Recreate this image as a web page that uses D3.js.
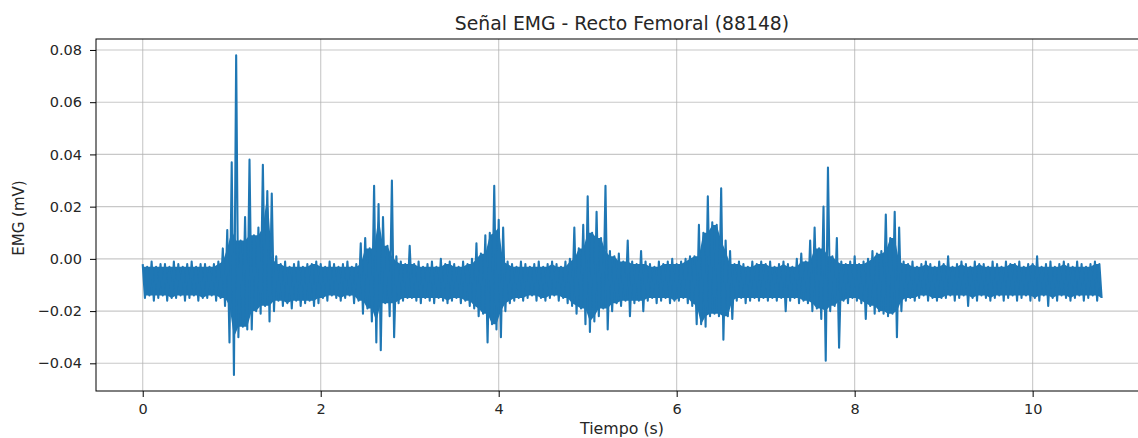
<!DOCTYPE html>
<html>
<head>
<meta charset="utf-8">
<script src="https://cdnjs.cloudflare.com/ajax/libs/d3/7.8.5/d3.min.js"></script>
<style>
    body { margin: 0; background: #fff; }
    #emg-chart { width: 1138px; height: 438px; overflow: hidden; }
    text { font-family: "DejaVu Sans", sans-serif; fill: #262626; }
</style>
</head>
<body>
<div id="emg-chart"></div>
<script>

// sampling of the envelope (seconds per slot)
let slotStep = 0.05;

// upper peaks, one per slot (mV), t = i * slotStep
let emgHi = [
    -0.002,-0.003,-0.001,-0.003,-0.002,-0.002,-0.003,-0.001,-0.002,-0.003,-0.002,-0.001,-0.003,-0.002,-0.002,-0.003,-0.002,-0.001,0.004,0.011,
    0.037,0.078,0.007,0.016,0.038,0.009,0.012,0.036,0.026,0.025,0.001,-0.002,-0.001,-0.003,-0.002,-0.001,-0.003,-0.002,-0.002,-0.001,
    -0.002,-0.003,-0.001,-0.002,-0.003,-0.002,-0.001,-0.003,-0.002,0.006,0.008,0.004,0.028,0.021,0.016,0.005,0.030,0.001,-0.001,-0.002,
    0.005,-0.002,-0.001,-0.003,-0.002,-0.001,-0.003,0.000,-0.002,-0.001,-0.002,-0.003,-0.001,-0.002,0.000,0.006,0.002,0.009,0.010,0.028,
    0.015,0.012,-0.001,-0.002,-0.003,-0.001,-0.002,-0.003,-0.002,-0.001,-0.003,-0.002,-0.001,-0.002,-0.003,-0.001,0.000,0.012,0.004,0.013,
    0.024,0.010,0.018,0.008,0.028,0.003,0.001,0.002,-0.001,0.007,-0.001,-0.002,0.003,-0.001,-0.002,-0.003,-0.001,-0.002,-0.001,0.000,
    -0.002,-0.001,0.000,0.001,0.001,0.013,0.010,0.024,0.014,0.013,0.027,0.007,0.003,-0.002,-0.001,-0.002,-0.003,-0.001,-0.002,-0.001,
    -0.002,-0.001,-0.003,-0.002,-0.001,-0.002,-0.003,0.000,0.002,-0.001,0.007,0.012,0.004,0.020,0.035,0.001,0.008,-0.001,-0.002,-0.001,
    0.001,-0.002,-0.001,0.000,0.003,0.002,0.003,0.017,0.008,0.018,0.012,-0.001,-0.002,-0.001,-0.003,-0.002,-0.001,-0.002,-0.003,-0.001,
    -0.002,0.001,-0.003,-0.002,-0.001,-0.002,-0.003,-0.001,-0.002,-0.002,-0.003,-0.001,-0.002,-0.003,-0.001,-0.002,-0.002,-0.001,-0.003,-0.002,
    -0.002,0.001,-0.003,-0.002,-0.001,-0.003,-0.002,-0.001,-0.002,-0.003,-0.001,-0.002,-0.003,-0.002,-0.001,-0.002
];

// lower peaks, one per slot (mV), t = i * slotStep + slotStep / 2
let emgLo = [
    -0.015,-0.014,-0.016,-0.015,-0.014,-0.016,-0.015,-0.015,-0.014,-0.016,-0.015,-0.014,-0.016,-0.015,-0.015,-0.014,-0.016,-0.015,-0.018,-0.032,
    -0.0445,-0.030,-0.026,-0.027,-0.027,-0.020,-0.021,-0.018,-0.024,-0.020,-0.016,-0.018,-0.017,-0.019,-0.016,-0.018,-0.017,-0.016,-0.018,-0.017,
    -0.015,-0.016,-0.014,-0.015,-0.016,-0.015,-0.014,-0.017,-0.016,-0.021,-0.019,-0.024,-0.032,-0.035,-0.017,-0.022,-0.030,-0.017,-0.016,-0.015,
    -0.015,-0.016,-0.017,-0.015,-0.016,-0.017,-0.015,-0.016,-0.017,-0.016,-0.015,-0.017,-0.016,-0.018,-0.019,-0.022,-0.021,-0.032,-0.025,-0.027,
    -0.030,-0.020,-0.017,-0.016,-0.015,-0.016,-0.015,-0.014,-0.016,-0.015,-0.016,-0.015,-0.014,-0.016,-0.015,-0.017,-0.018,-0.021,-0.019,-0.025,
    -0.028,-0.024,-0.022,-0.019,-0.027,-0.020,-0.017,-0.018,-0.016,-0.022,-0.017,-0.016,-0.020,-0.016,-0.015,-0.017,-0.016,-0.015,-0.017,-0.016,
    -0.016,-0.015,-0.017,-0.018,-0.025,-0.025,-0.026,-0.022,-0.021,-0.022,-0.031,-0.022,-0.023,-0.016,-0.015,-0.017,-0.016,-0.015,-0.016,-0.015,
    -0.016,-0.015,-0.016,-0.015,-0.020,-0.016,-0.015,-0.017,-0.016,-0.017,-0.020,-0.019,-0.023,-0.039,-0.020,-0.018,-0.034,-0.016,-0.017,-0.015,
    -0.016,-0.017,-0.023,-0.018,-0.021,-0.020,-0.021,-0.022,-0.021,-0.030,-0.020,-0.016,-0.015,-0.016,-0.015,-0.014,-0.016,-0.015,-0.016,-0.015,
    -0.015,-0.014,-0.016,-0.015,-0.014,-0.018,-0.015,-0.016,-0.014,-0.015,-0.016,-0.015,-0.014,-0.016,-0.015,-0.014,-0.016,-0.015,-0.014,-0.016,
    -0.015,-0.016,-0.014,-0.018,-0.015,-0.016,-0.014,-0.015,-0.016,-0.015,-0.014,-0.016,-0.015,-0.014,-0.016,-0.015
];

let xTicks = [0, 2, 4, 6, 8, 10];
let yTicks = [-0.04, -0.02, 0.00, 0.02, 0.04, 0.06, 0.08];

let xDomain = [-0.525, 11.33];
let yDomain = [-0.0506, 0.0842];


class EmgVis {

    constructor(parentElement){
        this.parentElement = parentElement;
        this.initVis()
    }

    initVis(){
        let vis = this;

        // plot box, right edge runs past the picture like in the original
        vis.margin = {top: 39, right: -13, bottom: 47, left: 96};
        vis.totalWidth = 1138;
        vis.totalHeight = 438;
        vis.width = vis.totalWidth - vis.margin.left - vis.margin.right;
        vis.height = vis.totalHeight - vis.margin.top - vis.margin.bottom;

        vis.svg = d3.select("#" + vis.parentElement).append("svg")
            .attr("width", vis.totalWidth)
            .attr("height", vis.totalHeight)
            .append('g')
            .attr('transform', `translate (${vis.margin.left}, ${vis.margin.top})`);

        vis.x = d3.scaleLinear().domain(xDomain).range([0, vis.width]);
        vis.y = d3.scaleLinear().domain(yDomain).range([vis.height, 0]);

        vis.svg.append("clipPath")
            .attr("id", "plot-clip")
            .append("rect")
            .attr("width", vis.width)
            .attr("height", vis.height);

        // title
        vis.svg.append('text')
            .attr('class', 'title')
            .text('Señal EMG - Recto Femoral (88148)')
            .attr('x', 622 - vis.margin.left)
            .attr('y', -9.5)
            .attr('text-anchor', 'middle')
            .style('font-size', '18.8px');

        // axis labels
        vis.svg.append('text')
            .text('Tiempo (s)')
            .attr('x', 622 - vis.margin.left)
            .attr('y', 434 - vis.margin.top)
            .attr('text-anchor', 'middle')
            .style('font-size', '15.8px');

        vis.svg.append('text')
            .text('EMG (mV)')
            .attr('transform', `translate(${24 - vis.margin.left}, ${218 - vis.margin.top}) rotate(-90)`)
            .attr('text-anchor', 'middle')
            .style('font-size', '15px');

        this.wrangleData();
    }

    wrangleData(){
        let vis = this;
        let n = emgHi.length;

        // interleave upper and lower peaks into one trace
        vis.displayData = [];
        emgHi.forEach((hi, i) => {
            vis.displayData.push([i * slotStep, hi]);
            vis.displayData.push([i * slotStep + slotStep / 2, emgLo[i]]);
        });

        // solid core of the trace: the part every neighbouring swing covers,
        // spikes above/below it are left to the line itself
        let upper = emgHi.map((hi, i) => [i * slotStep,
            d3.min(emgHi.slice(Math.max(0, i - 1), Math.min(n, i + 2)))]);
        let lower = emgLo.map((lo, i) => [i * slotStep + slotStep / 2,
            d3.max(emgLo.slice(Math.max(0, i - 1), Math.min(n, i + 2)))]).reverse();
        vis.bandData = upper.concat(lower);

        vis.updateVis()
    }

    updateVis(){
        let vis = this;
        let fmt = d3.format(".2f");

        // grid
        vis.svg.append('g')
            .attr('class', 'grid')
            .selectAll('line.gx')
            .data(xTicks)
            .join('line')
            .attr('x1', d => vis.x(d)).attr('x2', d => vis.x(d))
            .attr('y1', 0).attr('y2', vis.height)
            .attr('stroke', '#b0b0b0').attr('stroke-opacity', 0.7).attr('stroke-width', 1.1);

        vis.svg.append('g')
            .attr('class', 'grid')
            .selectAll('line.gy')
            .data(yTicks)
            .join('line')
            .attr('x1', 0).attr('x2', vis.width)
            .attr('y1', d => vis.y(d)).attr('y2', d => vis.y(d))
            .attr('stroke', '#b0b0b0').attr('stroke-opacity', 0.7).attr('stroke-width', 1.1);

        // signal
        let line = d3.line()
            .x(d => vis.x(d[0]))
            .y(d => vis.y(d[1]));

        let signal = vis.svg.append('g').attr('clip-path', 'url(#plot-clip)');

        signal.append('path')
            .datum(vis.bandData)
            .attr('d', d => line(d) + 'Z')
            .attr('fill', '#1f77b4')
            .attr('stroke', 'none');

        signal.append('path')
            .datum(vis.displayData)
            .attr('d', line)
            .attr('fill', 'none')
            .attr('stroke', '#1f77b4')
            .attr('stroke-width', 2.1)
            .attr('stroke-linejoin', 'round');

        // axes
        let xAxis = d3.axisBottom(vis.x).tickValues(xTicks).tickSize(6).tickPadding(7).tickFormat(d3.format("d"));
        let yAxis = d3.axisLeft(vis.y).tickValues(yTicks).tickSize(6).tickPadding(8)
            .tickFormat(d => fmt(d).replace("-", "\u2212"));

        vis.svg.append('g')
            .attr('transform', `translate(0, ${vis.height})`)
            .call(xAxis)
            .call(g => g.select('.domain').remove())
            .selectAll('text').style('font-size', '14.5px').style('font-family', '"DejaVu Sans", sans-serif').attr('fill', '#262626');

        vis.svg.append('g')
            .call(yAxis)
            .call(g => g.select('.domain').remove())
            .selectAll('text').style('font-size', '14.5px').style('font-family', '"DejaVu Sans", sans-serif').attr('fill', '#262626');

        // spines
        vis.svg.append('rect')
            .attr('width', vis.width)
            .attr('height', vis.height)
            .attr('fill', 'none')
            .attr('stroke', '#000')
            .attr('stroke-width', 1);
    }
}

new EmgVis("emg-chart");

</script>
</body>
</html>
